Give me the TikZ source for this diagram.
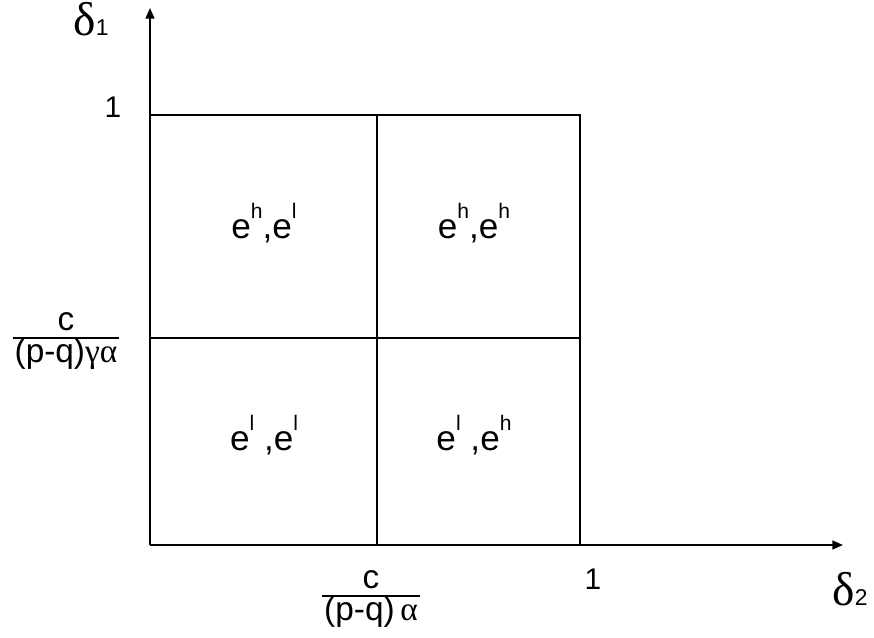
\documentclass[tikz,border=0pt]{standalone}
\usepackage{amsmath}
\usepackage{fontspec}
\setmainfont{Liberation Sans}
\newfontfamily\grk{Liberation Serif}
\usetikzlibrary{arrows.meta,positioning}
\newcommand\up[1]{\raisebox{0.55em}{\fontsize{12}{12}\selectfont #1}}
\newcommand\fr[2]{\setlength{\arrayrulewidth}{1pt}\renewcommand{\arraystretch}{0.85}%
  \begin{tabular}{@{\hspace{1pt}}c@{\hspace{1pt}}}#1\\[-2pt]\hline #2\end{tabular}}

\begin{document}
\begin{tikzpicture}[x=0.02cm, y=0.02cm, >={Triangle[length=6pt,width=5pt]},
  axis/.style={line width=1pt},
  cell/.style={font=\fontsize{20}{24}\selectfont, anchor=base},
  tick/.style={font=\fontsize{17}{20}\selectfont},
  frac/.style={font=\fontsize{19}{22}\selectfont, inner sep=0pt}]
  \useasboundingbox (0,0) rectangle (874,637);
  % axes
  \coordinate (O) at (150,92);
  \coordinate (ytip) at (150,629);
  \coordinate (xtip) at (843,92);
  \draw[->, axis] (O) -- (ytip);
  \draw[->, axis] (O) -- (xtip);
  % regions
  \coordinate (TL) at (150,522);
  \coordinate (TR) at (580,522);
  \coordinate (BR) at (580,92);
  \coordinate (ML) at (150,299);
  \coordinate (MR) at (580,299);
  \coordinate (MT) at (377,522);
  \coordinate (MB) at (377,92);
  \draw[axis] (TL) -- (TR) -- (BR);
  \draw[axis] (ML) -- (MR);
  \draw[axis] (MT) -- (MB);
  \node[cell] (hl) at (264,399) {e\up{h},e\up{l}};
  \node[cell] (hh) at (474,399) {e\up{h},e\up{h}};
  \node[cell] (ll) at (264,187) {e\up{l} ,e\up{l}};
  \node[cell] (lh) at (474,187) {e\up{l} ,e\up{h}};
  % axis labels
  \node[anchor=base] (d1) at (91,602) {{\grk\fontsize{27}{30}\selectfont δ}{\fontsize{13}{15}\selectfont 1}};
  \node[anchor=base] (d2) at (850,32) {{\grk\fontsize{27}{30}\selectfont δ}{\fontsize{13}{15}\selectfont 2}};
  \node[tick] (y1) at (113,530) {1};
  \node[tick] (x1) at (593,58) {1};
  \node[frac] (yfr) at (66,297) {\fr{c}{(p-q)\grk γα}};
  \node[frac] (xfr) at (371,39) {\fr{c}{(p-q)\,\grk α}};
\end{tikzpicture}
\end{document}
